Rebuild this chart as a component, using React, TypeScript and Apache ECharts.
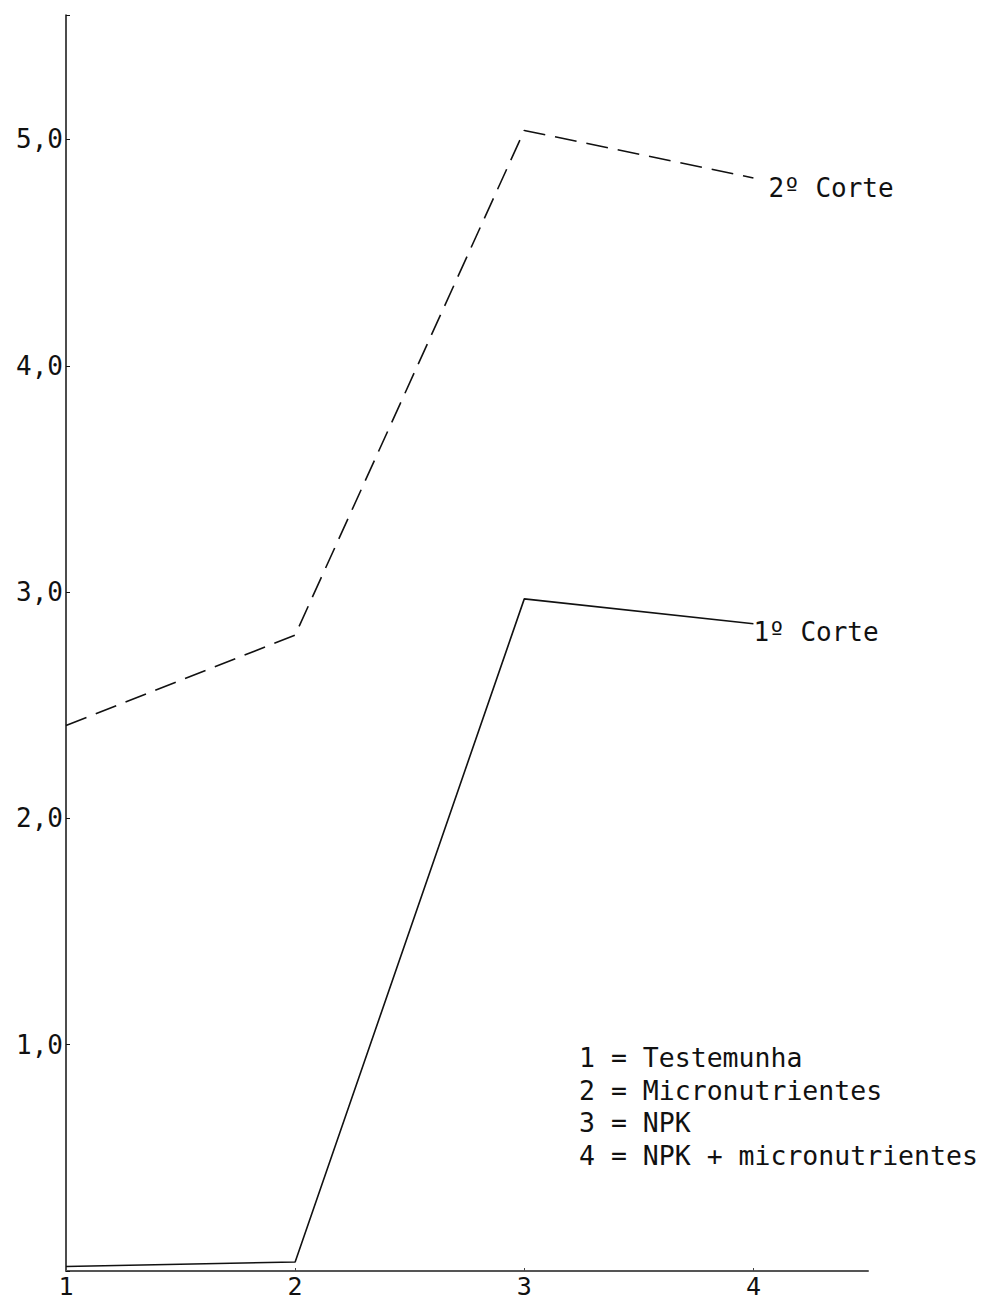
import React, { useEffect, useRef } from "react";
import * as echarts from "echarts";

const treatments = [1, 2, 3, 4];
const xTickLabels = ["1", "2", "3", "4"];
const yTickLabels = ["1,0", "2,0", "3,0", "4,0", "5,0"];
const corte1 = [0.02, 0.04, 2.97, 2.86];
const corte2 = [2.41, 2.81, 5.04, 4.83];
const seriesNames = ["1º Corte", "2º Corte"];
const legendLines = [
  "1 = Testemunha",
  "2 = Micronutrientes",
  "3 = NPK",
  "4 = NPK + micronutrientes",
];

const FONT = "'DejaVu Sans Mono', 'Liberation Mono', monospace";

export default function App() {
  const ref = useRef<HTMLDivElement>(null);
  useEffect(() => {
    document.body.style.margin = "0";
    const chart = echarts.init(ref.current!, null, { renderer: "svg" });
    const pairs = (vals: number[]) => treatments.map((t, i) => [t, vals[i]]);
    chart.setOption({
      animation: false,
      backgroundColor: "#ffffff",
      grid: { left: 66, top: 15, right: 114, bottom: 34, containLabel: false },
      xAxis: {
        type: "value",
        min: 1,
        max: 4.5,
        interval: 1,
        splitLine: { show: false },
        axisLine: { show: true, lineStyle: { color: "#555", width: 2 } },
        axisTick: {
          show: true,
          inside: true,
          length: 3,
          customValues: treatments.slice(1),
          lineStyle: { color: "#444", width: 1 },
        },
        axisLabel: {
          show: true,
          margin: 3,
          color: "#111",
          fontFamily: FONT,
          fontSize: 25,
          lineHeight: 25,
          customValues: treatments,
          formatter: (v: number) => {
            const i = treatments.indexOf(v);
            return i >= 0 ? xTickLabels[i] : "";
          },
        },
      },
      yAxis: {
        type: "value",
        min: 0,
        max: 5.55,
        interval: 1,
        splitLine: { show: false },
        axisLine: { show: true, lineStyle: { color: "#111", width: 1.5 } },
        axisTick: { show: true, inside: true, length: 4, lineStyle: { color: "#111", width: 1 } },
        axisLabel: {
          show: true,
          margin: 3,
          color: "#111",
          fontFamily: FONT,
          fontSize: 26,
          formatter: (v: number) => {
            if (v <= 0 || !Number.isInteger(v)) return "";
            return yTickLabels[v - 1] ?? "";
          },
        },
      },
      series: [
        {
          name: seriesNames[0],
          type: "line",
          data: pairs(corte1),
          showSymbol: false,
          symbol: "none",
          lineStyle: { color: "#111", width: 1.6, type: "solid" },
          endLabel: {
            show: true,
            formatter: "{a}",
            color: "#111",
            fontFamily: FONT,
            fontSize: 26,
            distance: 0,
            offset: [0, 8],
          },
        },
        {
          name: seriesNames[1],
          type: "line",
          data: pairs(corte2),
          showSymbol: false,
          symbol: "none",
          lineStyle: { color: "#111", width: 1.6, type: [22, 10] },
          endLabel: {
            show: true,
            formatter: "{a}",
            color: "#111",
            fontFamily: FONT,
            fontSize: 26,
            distance: 0,
            offset: [15, 10],
          },
        },
      ],
      graphic: legendLines.map((line, i) => ({
        type: "text",
        left: 579,
        top: 1044 + i * 32.5,
        style: {
          text: line,
          fill: "#111",
          font: `26.5px ${FONT}`,
        },
      })),
    });
    return () => chart.dispose();
  }, []);
  return <div ref={ref} style={{ width: 982, height: 1305 }} />;
}
